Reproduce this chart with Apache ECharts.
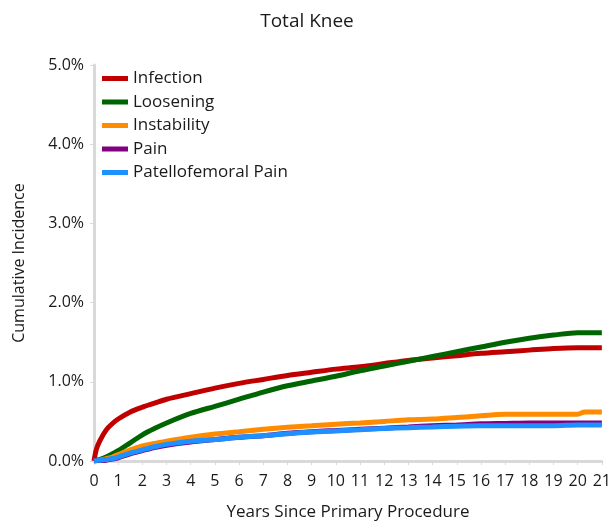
<!DOCTYPE html>
<html>
<head>
<meta charset="utf-8">
<script src="https://cdn.jsdelivr.net/npm/echarts@6/dist/echarts.min.js"></script>
<style>html,body{margin:0;padding:0;background:#fff}#c{width:614px;height:529px}</style>
</head>
<body>
<div id="c"></div>
<script>
var years = [0, 0.1, 0.25, 0.5, 0.75, 1, 1.5, 2, 2.5, 3, 4, 5, 6, 7, 8, 9, 10, 11, 12, 13, 14, 15, 16, 17, 18, 19, 20, 20.3, 21];
var infection = [0, 0.15, 0.26, 0.39, 0.47, 0.53, 0.62, 0.68, 0.73, 0.78, 0.85, 0.92, 0.98, 1.03, 1.08, 1.12, 1.16, 1.19, 1.23, 1.27, 1.30, 1.33, 1.36, 1.38, 1.40, 1.42, 1.43, 1.43, 1.43];
var loosening = [0, 0.01, 0.02, 0.05, 0.09, 0.13, 0.23, 0.33, 0.41, 0.48, 0.60, 0.69, 0.78, 0.87, 0.95, 1.01, 1.07, 1.14, 1.20, 1.26, 1.32, 1.38, 1.44, 1.50, 1.55, 1.59, 1.62, 1.62, 1.62];
var instability = [0, 0.005, 0.01, 0.03, 0.05, 0.08, 0.14, 0.19, 0.22, 0.25, 0.30, 0.34, 0.37, 0.40, 0.425, 0.445, 0.465, 0.48, 0.50, 0.52, 0.53, 0.55, 0.57, 0.59, 0.59, 0.59, 0.59, 0.62, 0.62];
var pain = [0, 0.003, 0.006, 0.01, 0.025, 0.04, 0.09, 0.13, 0.17, 0.20, 0.24, 0.27, 0.30, 0.32, 0.35, 0.37, 0.385, 0.40, 0.415, 0.43, 0.445, 0.455, 0.47, 0.475, 0.48, 0.48, 0.48, 0.48, 0.48];
var patellofemoral = [0, 0.005, 0.01, 0.02, 0.03, 0.05, 0.10, 0.14, 0.18, 0.21, 0.25, 0.27, 0.30, 0.32, 0.345, 0.365, 0.38, 0.395, 0.41, 0.42, 0.43, 0.44, 0.445, 0.445, 0.445, 0.445, 0.455, 0.455, 0.455];
var seriesNames = ['Infection', 'Loosening', 'Instability', 'Pain', 'Patellofemoral Pain'];
var seriesColors = ['#c00000', '#006400', '#ff8c00', '#800080', '#1e90ff'];
var seriesValues = [infection, loosening, instability, pain, patellofemoral];

function pairs(vals){ return years.map(function(x,i){ return [x, vals[i]]; }); }

var FONT = 'Open Sans';
var TXT = '#1a1a1a';
var chart = echarts.init(document.getElementById('c'));
chart.setOption({
  animation: false,
  backgroundColor: '#fff',
  title: {
    text: 'Total Knee', left: 'center', top: 7,
    textStyle: { fontFamily: FONT, fontSize: 19, fontWeight: 'normal', color: TXT }
  },
  legend: {
    orient: 'vertical', left: 102, top: 70, padding: 0,
    itemWidth: 26, itemHeight: 5, itemGap: 6.5, icon: 'rect',
    data: seriesNames,
    textStyle: { fontFamily: FONT, fontSize: 17, color: TXT, lineHeight: 15 }
  },
  grid: { left: 94, right: 10, top: 65, bottom: 68, containLabel: false },
  xAxis: {
    type: 'value', min: 0, max: 21, interval: 1,
    name: 'Years Since Primary Procedure', nameLocation: 'middle', nameGap: 43,
    nameTextStyle: { fontFamily: FONT, fontSize: 17, color: TXT },
    axisLine: { show: true, lineStyle: { color: '#d9d9d9', width: 3 } },
    axisTick: { show: true, length: 4, lineStyle: { color: '#d9d9d9' } },
    axisLabel: { fontFamily: FONT, fontSize: 16, color: TXT, margin: 12 },
    splitLine: { show: false }
  },
  yAxis: {
    type: 'value', min: 0, max: 5, interval: 1,
    name: 'Cumulative Incidence', nameLocation: 'middle', nameGap: 67,
    nameTextStyle: { fontFamily: FONT, fontSize: 16, color: TXT },
    axisLine: { show: true, lineStyle: { color: '#d9d9d9', width: 3 } },
    axisTick: { show: true, length: 4, lineStyle: { color: '#d9d9d9' } },
    axisLabel: { fontFamily: FONT, fontSize: 16, color: TXT, margin: 10,
      formatter: function(v){ return v.toFixed(1) + '%'; } },
    splitLine: { show: false }
  },
  series: seriesNames.map(function(n, i){
    return {
      name: n, type: 'line', data: pairs(seriesValues[i]), showSymbol: false, symbol: 'none',
      smooth: 0.3, color: seriesColors[i],
      lineStyle: { width: 5, color: seriesColors[i] }
    };
  })
});
</script>
</body>
</html>
